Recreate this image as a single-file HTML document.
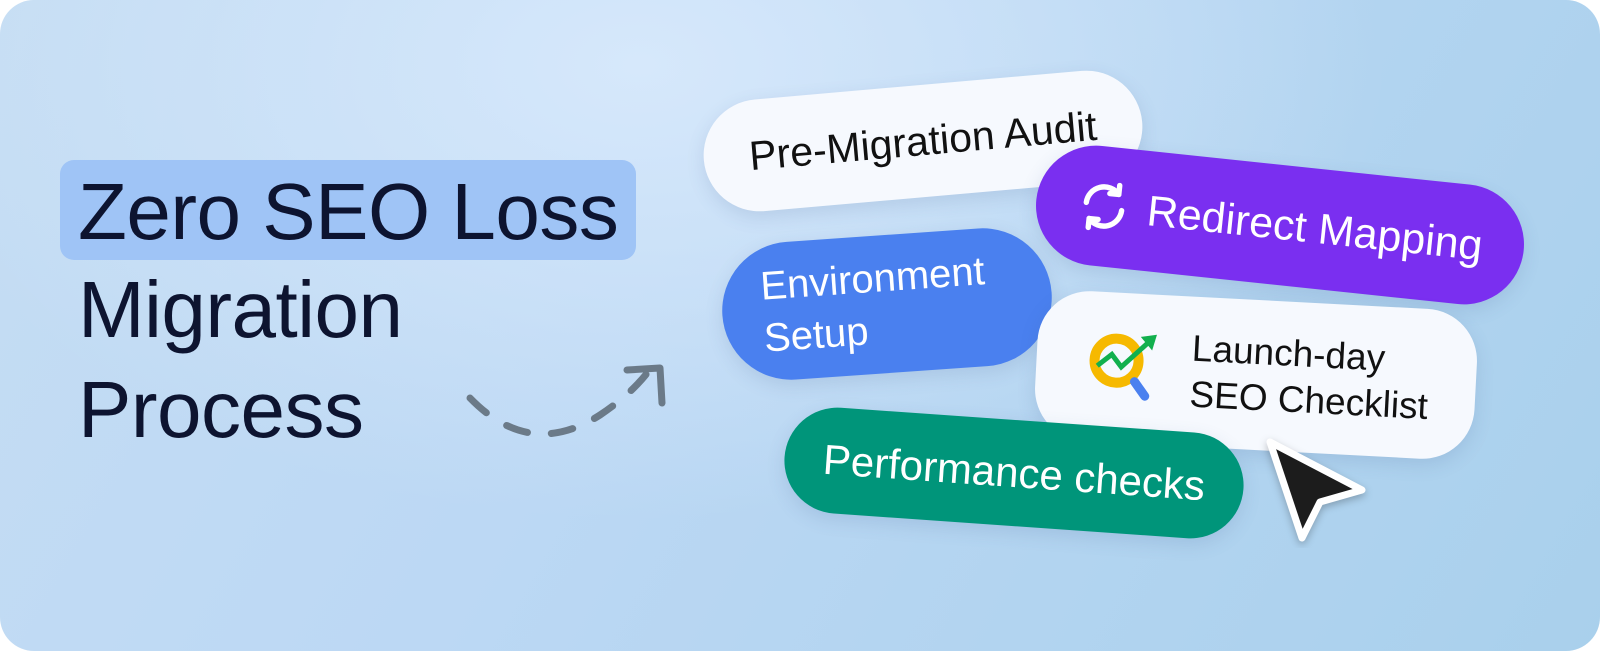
<!DOCTYPE html>
<html><head><style>
html,body{margin:0;padding:0;background:#fff;}
#c{position:relative;width:1600px;height:651px;border-radius:34px;overflow:hidden;
background:radial-gradient(ellipse at 40% 10%,#d6e8fb 0%,rgba(214,232,251,0) 55%),linear-gradient(120deg,#c5ddf3 0%,#bcd8f4 40%,#b2d4f0 70%,#a9d0ec 100%);
font-family:"Liberation Sans",sans-serif;}
.t{position:absolute;left:78px;font-size:80px;color:#0d1430;letter-spacing:-0.5px;line-height:1;}
.hl{position:absolute;left:60px;top:160px;width:576px;height:100px;background:#9fc4f6;border-radius:14px;}
.p{position:absolute;display:flex;align-items:center;justify-content:center;box-sizing:border-box;box-shadow:0 6px 18px rgba(60,90,140,.15);}
</style></head><body>
<div id="c">
<div class="hl"></div>
<div class="t" style="top:172px">Zero SEO Loss</div>
<div class="t" style="top:270px">Migration</div>
<div class="t" style="top:370px">Process</div>
<svg style="position:absolute;left:0;top:0" width="1600" height="651">
<path d="M470 398 Q530 460 600 415 Q630 395 648 372" fill="none" stroke="#6b7a88" stroke-width="7" stroke-linecap="round" stroke-dasharray="22 24"/>
<path d="M627 370 L660 368 L662 403" fill="none" stroke="#6b7a88" stroke-width="7" stroke-linecap="round" stroke-linejoin="round"/>
</svg>
<div class="p" style="left:703px;top:85px;width:440px;height:112px;border-radius:56px;background:#f6f9fe;transform:rotate(-5deg);font-size:41px;color:#111;">Pre-Migration Audit</div>
<div class="p" style="left:1035px;top:165px;width:490px;height:120px;border-radius:60px;background:#7a2ff0;transform:rotate(6deg);font-size:43px;color:#fff;">
<svg width="54" height="54" viewBox="0 0 24 24" style="margin-right:16px"><path d="M4 11a8 8 0 0 1 14-5M20 13a8 8 0 0 1-14 5" fill="none" stroke="#fff" stroke-width="2.4" stroke-linecap="round"/><path d="M18 2v4h-4M6 22v-4h4" fill="none" stroke="#fff" stroke-width="2.4" stroke-linecap="round" stroke-linejoin="round"/></svg>Redirect Mapping</div>
<div class="p" style="left:722px;top:235px;width:330px;height:138px;border-radius:69px;background:#4a80ef;transform:rotate(-4deg);font-size:40px;color:#fff;justify-content:flex-start;padding-left:40px;line-height:1.3;">Environment<br>Setup</div>
<div class="p" style="left:1036px;top:300px;width:440px;height:150px;border-radius:52px;background:#f6f9fe;transform:rotate(3deg);font-size:37px;color:#111;line-height:1.25;">
<svg width="90" height="90" viewBox="0 0 90 90" style="margin-right:18px"><circle cx="33" cy="38" r="22" fill="none" stroke="#f6b900" stroke-width="10"/><line x1="52" y1="58" x2="63" y2="72" stroke="#4a80ef" stroke-width="9" stroke-linecap="round"/><path d="M14 44 L28 32 L38 44 L66 16" fill="none" stroke="#12b04e" stroke-width="5"/><path d="M56 13 L72 10 L68 26 Z" fill="#12b04e"/></svg>
<div>Launch-day<br>SEO Checklist</div></div>
<div class="p" style="left:784px;top:420px;width:460px;height:106px;border-radius:53px;background:#00957a;transform:rotate(4deg);font-size:42px;color:#fff;">Performance checks</div>
<svg style="position:absolute;left:1258px;top:432px" width="120" height="116"><path d="M12 10 L104 58 L62 70 L44 106 Z" fill="#1c1c1c" stroke="#fff" stroke-width="7" stroke-linejoin="round" style="filter:drop-shadow(0 3px 4px rgba(0,0,0,.25))"/></svg>
</div>
</body></html>
